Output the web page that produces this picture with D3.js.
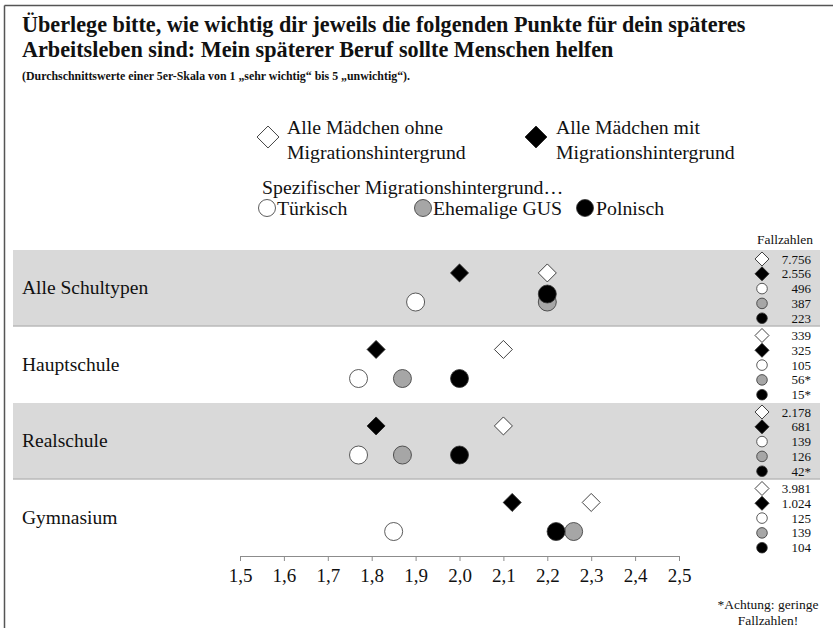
<!DOCTYPE html>
<html>
<head>
<meta charset="utf-8">
<script src="https://cdn.jsdelivr.net/npm/d3@7"></script>
<style>
  html, body { margin: 0; padding: 0; background: #fff; }
  svg { display: block; font-family: "Liberation Serif", "Times New Roman", serif; }
</style>
</head>
<body>
<svg id="chart" width="833" height="628"></svg>
<script>
// School types (rows)
const categories = ["Alle Schultypen", "Hauptschule", "Realschule", "Gymnasium"];

// Mean ratings (1 = sehr wichtig ... 5 = unwichtig)
const ohneMigration = [2.20, 2.10, 2.10, 2.30];
const mitMigration  = [2.00, 1.81, 1.81, 2.12];
const tuerkisch     = [1.90, 1.77, 1.77, 1.85];
const ehemaligeGUS  = [2.20, 1.87, 1.87, 2.26];
const polnisch      = [2.20, 2.00, 2.00, 2.22];

// Case counts per row
const nOhne      = ["7.756", "339", "2.178", "3.981"];
const nMit       = ["2.556", "325", "681", "1.024"];
const nTuerkisch = ["496", "105", "139", "125"];
const nGUS       = ["387", "56*", "126", "139"];
const nPolnisch  = ["223", "15*", "42*", "104"];

// Axis ticks
const tickValues = [1.5, 1.6, 1.7, 1.8, 1.9, 2.0, 2.1, 2.2, 2.3, 2.4, 2.5];
const tickLabels = ["1,5", "1,6", "1,7", "1,8", "1,9", "2,0", "2,1", "2,2", "2,3", "2,4", "2,5"];

const svg = d3.select("#chart");
const ink = "#111";

// frame
svg.append("line").attr("x1", 4.5).attr("x2", 833).attr("y1", 5.5).attr("y2", 5.5)
  .attr("stroke", "#555").attr("stroke-width", 1.5);
svg.append("line").attr("x1", 4.5).attr("x2", 4.5).attr("y1", 5.5).attr("y2", 628)
  .attr("stroke", "#555").attr("stroke-width", 1.5);

// title
const title = svg.append("g").attr("font-weight", "bold").attr("fill", ink);
title.append("text").attr("x", 22).attr("y", 32).attr("font-size", 22.2)
  .text("Überlege bitte, wie wichtig dir jeweils die folgenden Punkte für dein späteres");
title.append("text").attr("x", 22).attr("y", 57).attr("font-size", 22.2)
  .text("Arbeitsleben sind: Mein späterer Beruf sollte Menschen helfen");
title.append("text").attr("x", 22).attr("y", 80).attr("font-size", 13.5)
  .attr("textLength", 388).attr("lengthAdjust", "spacingAndGlyphs")
  .text("(Durchschnittswerte einer 5er-Skala von 1 „sehr wichtig“ bis 5 „unwichtig“).");

// scales
const x = d3.scaleLinear().domain([1.5, 2.5]).range([240, 679]);
const y = d3.scaleBand().domain(categories).range([250, 556]).paddingInner(0).paddingOuter(0);
const bw = y.bandwidth();

const diamond = size => d3.symbol().type(d3.symbolSquare).size(size);

// legend
const leg = svg.append("g").attr("font-size", 19.8).attr("fill", ink);
function legDiamond(cx, cy, fill) {
  leg.append("path").attr("d", diamond(240)())
    .attr("transform", `translate(${cx},${cy}) rotate(45)`)
    .attr("fill", fill).attr("stroke", "#222").attr("stroke-width", 0.8);
}
legDiamond(268, 137, "#fff");
leg.append("text").attr("x", 287).attr("y", 134).text("Alle Mädchen ohne");
leg.append("text").attr("x", 287).attr("y", 159).text("Migrationshintergrund");
legDiamond(536, 137, "#000");
leg.append("text").attr("x", 556).attr("y", 134).text("Alle Mädchen mit");
leg.append("text").attr("x", 556).attr("y", 159).text("Migrationshintergrund");
leg.append("text").attr("x", 262).attr("y", 194).text("Spezifischer Migrationshintergrund…");
const circLeg = [
  { cx: 267, fill: "#fff", label: "Türkisch", tx: 277 },
  { cx: 423, fill: "#a6a6a6", label: "Ehemalige GUS", tx: 433 },
  { cx: 585, fill: "#000", label: "Polnisch", tx: 596 }
];
circLeg.forEach(d => {
  leg.append("circle").attr("cx", d.cx).attr("cy", 208).attr("r", 8.5)
    .attr("fill", d.fill).attr("stroke", "#333").attr("stroke-width", 0.8);
  leg.append("text").attr("x", d.tx).attr("y", 215).text(d.label);
});

// row bands
const bands = svg.append("g");
categories.forEach((c, i) => {
  if (i % 2 === 0) {
    bands.append("rect").attr("x", 13).attr("y", y(c)).attr("width", 807).attr("height", bw)
      .attr("fill", "#d9d9d9");
    bands.append("line").attr("x1", 13).attr("x2", 820)
      .attr("y1", y(c) + bw - 0.5).attr("y2", y(c) + bw - 0.5)
      .attr("stroke", "#a9a9a9").attr("stroke-width", 1);
  }
});

// category labels
svg.append("g").attr("font-size", 19.5).attr("fill", ink)
  .selectAll("text").data(categories).join("text")
  .attr("x", 22).attr("y", d => y(d) + bw / 2 + 6).text(d => d);

// x axis
const axis = d3.axisBottom(x).tickValues(tickValues).tickSize(5).tickPadding(8)
  .tickFormat((d, i) => tickLabels[i]);
const ax = svg.append("g").attr("transform", `translate(0,${y.range()[1]})`).call(axis);
ax.select(".domain").attr("stroke", "#8c8c8c");
ax.selectAll(".tick line").attr("stroke", "#8c8c8c");
ax.selectAll(".tick text").attr("font-family", "Liberation Serif, serif")
  .attr("font-size", 19).attr("fill", ink);

// data points
const plot = svg.append("g");
const diaRow = c => y(c) + bw * 0.3;
const cirRow = c => y(c) + bw * 0.68;

const circleSeries = [
  { values: tuerkisch, fill: "#fff" },
  { values: ehemaligeGUS, fill: "#a6a6a6" },
  { values: polnisch, fill: "#000" }
];
circleSeries.forEach((s, k) => {
  plot.selectAll(null).data(categories).join("circle")
    .attr("cx", (c, i) => x(s.values[i]))
    .attr("cy", (c, i) => {
      // raise the Polnisch marker slightly when it sits exactly on the GUS marker
      const overlap = k === 2 && s.values[i] === ehemaligeGUS[i];
      return cirRow(c) - (overlap ? 8 : 0);
    })
    .attr("r", 9)
    .attr("fill", s.fill).attr("stroke", "#333").attr("stroke-width", 0.8);
});

const diamondSeries = [
  { values: ohneMigration, fill: "#fff" },
  { values: mitMigration, fill: "#000" }
];
diamondSeries.forEach(s => {
  plot.selectAll(null).data(categories).join("path")
    .attr("d", diamond(162)())
    .attr("transform", (c, i) => `translate(${x(s.values[i])},${diaRow(c)}) rotate(45)`)
    .attr("fill", s.fill).attr("stroke", "#222").attr("stroke-width", 0.8);
});

// case counts column
const nCol = svg.append("g").attr("font-size", 13).attr("fill", ink);
nCol.append("text").attr("x", 785).attr("y", 244).attr("font-size", 13.5)
  .attr("text-anchor", "middle").text("Fallzahlen");
const countSeries = [
  { counts: nOhne, shape: "diamond", fill: "#fff" },
  { counts: nMit, shape: "diamond", fill: "#000" },
  { counts: nTuerkisch, shape: "circle", fill: "#fff" },
  { counts: nGUS, shape: "circle", fill: "#a6a6a6" },
  { counts: nPolnisch, shape: "circle", fill: "#000" }
];
categories.forEach((c, i) => {
  countSeries.forEach((s, k) => {
    const cy = y(c) + 9 + k * 14.8;
    if (s.shape === "diamond") {
      nCol.append("path").attr("d", diamond(98)())
        .attr("transform", `translate(762,${cy}) rotate(45)`)
        .attr("fill", s.fill).attr("stroke", "#222").attr("stroke-width", 0.8);
    } else {
      nCol.append("circle").attr("cx", 762).attr("cy", cy).attr("r", 5.3)
        .attr("fill", s.fill).attr("stroke", "#333").attr("stroke-width", 0.8);
    }
    nCol.append("text").attr("x", 811).attr("y", cy + 4.5).attr("text-anchor", "end")
      .text(s.counts[i]);
  });
});

// footnote
const foot = svg.append("g").attr("font-size", 13.5).attr("fill", ink).attr("text-anchor", "middle");
foot.append("text").attr("x", 768).attr("y", 609).text("*Achtung: geringe");
foot.append("text").attr("x", 768).attr("y", 625).text("Fallzahlen!");
</script>
</body>
</html>
